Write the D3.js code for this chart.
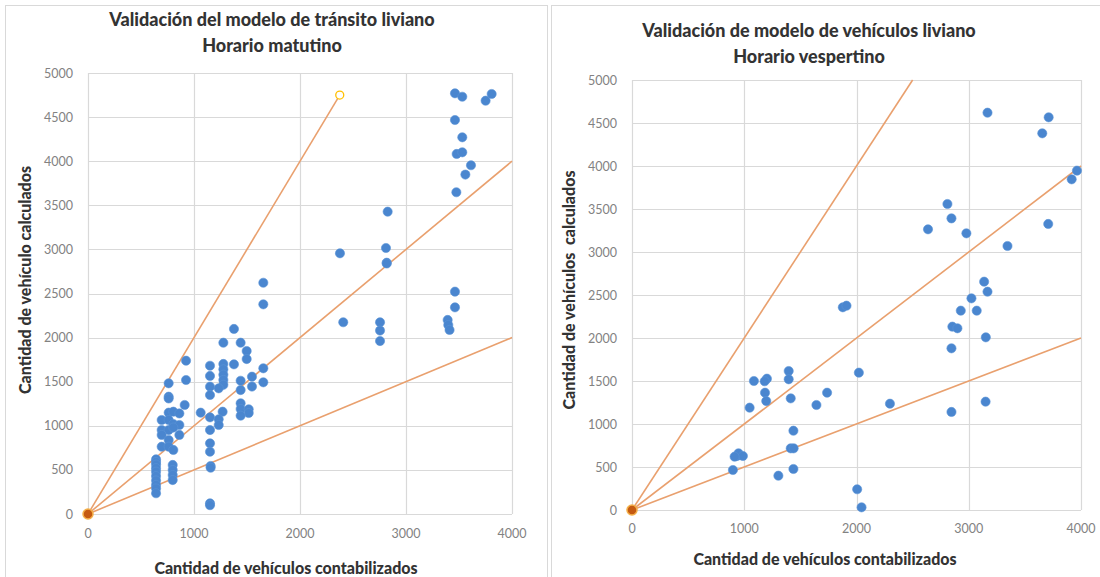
<!DOCTYPE html>
<html>
<head>
<meta charset="utf-8">
<script src="https://cdn.jsdelivr.net/npm/d3@7"></script>
<style>
  body { margin: 0; background: #fff; }
  svg text { font-family: Lato, "Open Sans", sans-serif; }
</style>
</head>
<body>
<div id="chart"></div>
<script>
// Morning (matutino): counted vs model vehicles
const morningCounted = [
  1654, 1654, 1377, 1277, 1440, 1497, 1497, 925, 1151, 1277, 1377, 1277, 1277, 1277, 1277,
  1151, 1654, 1654, 1547, 1547, 1440, 1440, 925, 761, 1151, 1151, 1233, 761, 761, 912,
  1440, 1440, 1516, 1516, 1440, 1063, 1151, 1270, 1233, 1233, 1151, 1151, 1151, 1157, 1157,
  1151, 1151,
  761, 805, 862, 695, 761, 805, 862, 695, 761, 805, 862, 695, 761, 695, 761, 805,
  642, 642, 642, 642, 642, 642, 642, 642, 642, 642,
  799, 799, 799, 799,
  3462, 3531, 3808, 3751, 3462, 3531, 3478, 3531, 3613, 3560, 3475,
  2827, 2377, 2811, 2818, 2818, 3462, 3462, 3393, 3399, 3411, 2408, 2755, 2755, 2755
];
const morningModel = [
  2622, 2377, 2098, 1942, 1942, 1848, 1757, 1738, 1681, 1701, 1697, 1640, 1580, 1520, 1465,
  1565, 1652, 1493, 1557, 1445, 1511, 1405, 1519, 1482, 1444, 1349, 1425, 1330, 1310, 1236,
  1255, 1190, 1187, 1145, 1115, 1149, 1096, 1160, 1074, 1009, 952, 801, 706, 544, 525,
  121, 100,
  1149, 1160, 1140, 1066, 1066, 1020, 1009, 952, 952, 980, 896, 896, 839, 763, 763, 726,
  620, 590, 560, 520, 480, 430, 380, 330, 290, 235,
  556, 499, 442, 385,
  4770, 4731, 4762, 4686, 4467, 4271, 4082, 4101, 3954, 3848, 3648,
  3428, 2956, 3016, 2849, 2840, 2521, 2343, 2200, 2143, 2087, 2174, 2174, 2080, 1961
];

// Evening (vespertino): counted vs model vehicles
const eveningCounted = [
  1878, 1911, 2021, 2298, 1086, 1202, 1182, 1185, 1196, 1048, 1396, 1396, 1414, 1643, 1738,
  1438, 1414, 1440, 1438, 1304, 899, 935, 949, 988, 914, 2006, 2045,
  3167, 3712, 3655, 3964, 3917, 2810, 2846, 2637, 2979, 3708, 3345, 3137, 3167, 3024,
  2929, 3071, 2854, 2899, 3152, 2846, 2846, 3150
];
const eveningModel = [
  2357, 2376, 1597, 1236, 1500, 1527, 1497, 1364, 1267, 1190, 1616, 1520, 1298, 1221, 1364,
  922, 717, 717, 477, 399, 465, 628, 659, 628, 620, 241, 31,
  4620, 4566, 4380, 3946, 3845, 3558, 3391, 3264, 3217, 3326, 3070, 2655, 2539, 2461,
  2318, 2318, 2132, 2113, 2008, 1880, 1140, 1260
];

const xTicks = [0, 1000, 2000, 3000, 4000];
const yTicks = [0, 500, 1000, 1500, 2000, 2500, 3000, 3500, 4000, 4500, 5000];
const refSlopes = [2, 1, 0.5];

const svg = d3.select("#chart").append("svg")
    .attr("width", 1100)
    .attr("height", 577);

// chart frames
svg.append("rect").attr("x", 5.5).attr("y", 5.5).attr("width", 542).attr("height", 580)
    .attr("fill", "none").attr("stroke", "#d9d9d9");
svg.append("rect").attr("x", 551.5).attr("y", 5.5).attr("width", 560).attr("height", 580)
    .attr("fill", "none").attr("stroke", "#d9d9d9");

function drawPanel(cfg) {
    const x = d3.scaleLinear().domain([0, 4000]).range([cfg.left, cfg.right]);
    const y = d3.scaleLinear().domain([0, 5000]).range([cfg.bottom, cfg.top]);
    const g = svg.append("g");

    // grid
    g.append("g").selectAll("line").data(yTicks).join("line")
        .attr("x1", cfg.left).attr("x2", cfg.right)
        .attr("y1", d => Math.round(y(d)) + 0.5).attr("y2", d => Math.round(y(d)) + 0.5)
        .attr("stroke", "#d9d9d9").attr("stroke-width", 1.2);
    g.append("g").selectAll("line").data(xTicks).join("line")
        .attr("y1", cfg.top).attr("y2", cfg.bottom)
        .attr("x1", d => Math.round(x(d)) + 0.5).attr("x2", d => Math.round(x(d)) + 0.5)
        .attr("stroke", "#d9d9d9").attr("stroke-width", 1.2);

    // tick labels
    g.append("g").selectAll("text").data(yTicks).join("text")
        .attr("x", cfg.left - 15).attr("y", d => y(d) + 4.5)
        .attr("text-anchor", "end")
        .style("font-size", "12.5px").style("fill", "#828282")
        .text(d => d);
    g.append("g").selectAll("text").data(xTicks).join("text")
        .attr("x", d => x(d)).attr("y", cfg.bottom + cfg.tickGap)
        .attr("text-anchor", "middle")
        .style("font-size", "12.5px").style("fill", "#828282")
        .text(d => d);

    // reference lines y = k*x
    g.append("g").selectAll("line").data(refSlopes).join("line")
        .attr("x1", x(0)).attr("y1", y(0))
        .attr("x2", k => x(Math.min(4000, cfg.topEnd / k)))
        .attr("y2", k => y(k * Math.min(4000, cfg.topEnd / k)))
        .attr("stroke", "#e9a06e").attr("stroke-width", 1.6);

    // points
    g.append("g").selectAll("circle").data(cfg.xs).join("circle")
        .attr("cx", d => x(d))
        .attr("cy", (d, i) => y(cfg.ys[i]))
        .attr("r", 4.6)
        .attr("fill", "#4a86cf")
        .attr("stroke", "#5b93d6").attr("stroke-width", 0.6);

    // line end marker + origin marker
    if (cfg.endMarker) {
        g.append("circle")
            .attr("cx", x(cfg.topEnd / 2)).attr("cy", y(cfg.topEnd))
            .attr("r", 4).attr("fill", "#fff")
            .attr("stroke", "#ffc000").attr("stroke-width", 1.3);
    }
    g.append("circle")
        .attr("cx", x(0)).attr("cy", y(0)).attr("r", 5)
        .attr("fill", "#c55a11").attr("stroke", "#f4b04a").attr("stroke-width", 1.5);

    // titles
    g.append("text")
        .attr("x", cfg.titleX).attr("y", cfg.titleY)
        .attr("text-anchor", "middle")
        .style("font-size", "18px").style("font-weight", "900").style("fill", "#333")
        .text(cfg.title1);
    g.append("text")
        .attr("x", cfg.titleX).attr("y", cfg.titleY + 26)
        .attr("text-anchor", "middle")
        .style("font-size", "18px").style("font-weight", "900").style("fill", "#333")
        .text(cfg.title2);

    g.append("text")
        .attr("x", cfg.xTitleX).attr("y", cfg.xTitleY)
        .attr("text-anchor", "middle")
        .style("font-size", "16px").style("font-weight", "900").style("fill", "#333")
        .text("Cantidad de vehículos contabilizados");

    g.append("text")
        .attr("transform", `translate(${cfg.yTitleX},${cfg.yTitleY}) rotate(-90)`)
        .attr("text-anchor", "middle")
        .style("font-size", "16px").style("font-weight", "900").style("fill", "#333")
        .style("white-space", "pre")
        .text(cfg.yTitle);
}

drawPanel({
    left: 88, right: 512, top: 73, bottom: 514, tickGap: 24,
    xs: morningCounted, ys: morningModel,
    topEnd: 4750, endMarker: true,
    title1: "Validación del modelo de tránsito liviano",
    title2: "Horario matutino",
    titleX: 272, titleY: 26,
    xTitleX: 286, xTitleY: 574,
    yTitleX: 31, yTitleY: 280, yTitle: "Cantidad de vehículo calculados"
});

drawPanel({
    left: 632, right: 1081, top: 80, bottom: 510, tickGap: 23,
    xs: eveningCounted, ys: eveningModel,
    topEnd: 5000, endMarker: false,
    title1: "Validación de modelo de vehículos liviano",
    title2: "Horario vespertino",
    titleX: 809, titleY: 37,
    xTitleX: 825, xTitleY: 565,
    yTitleX: 575, yTitleY: 290, yTitle: "Cantidad de vehículos  calculados"
});
</script>
</body>
</html>
